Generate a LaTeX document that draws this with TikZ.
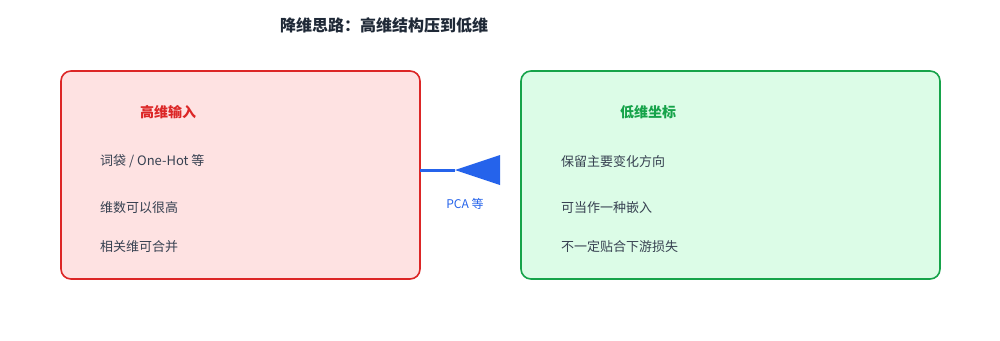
\documentclass[tikz,border=0pt]{standalone}
\usepackage{fontspec}
\setmainfont{Noto Sans CJK SC}
\definecolor{redline}{HTML}{DC2626}
\definecolor{redfill}{HTML}{FEE2E2}
\definecolor{greenline}{HTML}{16A34A}
\definecolor{greenfill}{HTML}{DCFCE7}
\definecolor{bluearrow}{HTML}{2563EB}
\definecolor{titlecol}{HTML}{1F2937}
\definecolor{itemcol}{HTML}{374151}
\begin{document}
\begin{tikzpicture}[x=1pt,y=-1pt,
  panel/.style={draw, line width=1.6pt, rounded corners=10pt},
  heading/.style={font=\fontsize{14}{16}\selectfont\bfseries, anchor=center},
  item/.style={font=\fontsize{13}{15}\selectfont, text=itemcol, anchor=west, inner sep=0pt},
]
\useasboundingbox[fill=white] (0,0) rectangle (1000,340);
\node[font=\fontsize{16}{18}\selectfont\bfseries, text=titlecol] (title) at (384,25) {降维思路：高维结构压到低维};
\draw[panel, draw=redline, fill=redfill] (61,71) rectangle (420,279);
\coordinate (lbox) at (420,170);
\draw[panel, draw=greenline, fill=greenfill] (521,71) rectangle (940,279);
\node[heading, text=redline] (lh) at (168,112) {高维输入};
\node[item] (l1) at (100,161.5) {词袋 / One-Hot 等};
\node[item] (l2) at (100,207.5) {维数可以很高};
\node[item] (l3) at (100,246.5) {相关维可合并};
\node[heading, text=greenline] (rh) at (648,112) {低维坐标};
\node[item] (r1) at (561,161.5) {保留主要变化方向};
\node[item] (r2) at (561,207.5) {可当作一种嵌入};
\node[item] (r3) at (561,246.5) {不一定贴合下游损失};
\coordinate (tip) at (455,170);
\draw[bluearrow, line width=3pt] (lbox) -- (tip);
\fill[bluearrow] (tip) -- (500,155) -- (500,185) -- cycle;
\node[font=\fontsize{12}{14}\selectfont, text=bluearrow] (pca) at (465,204) {PCA 等};
\end{tikzpicture}
\end{document}
